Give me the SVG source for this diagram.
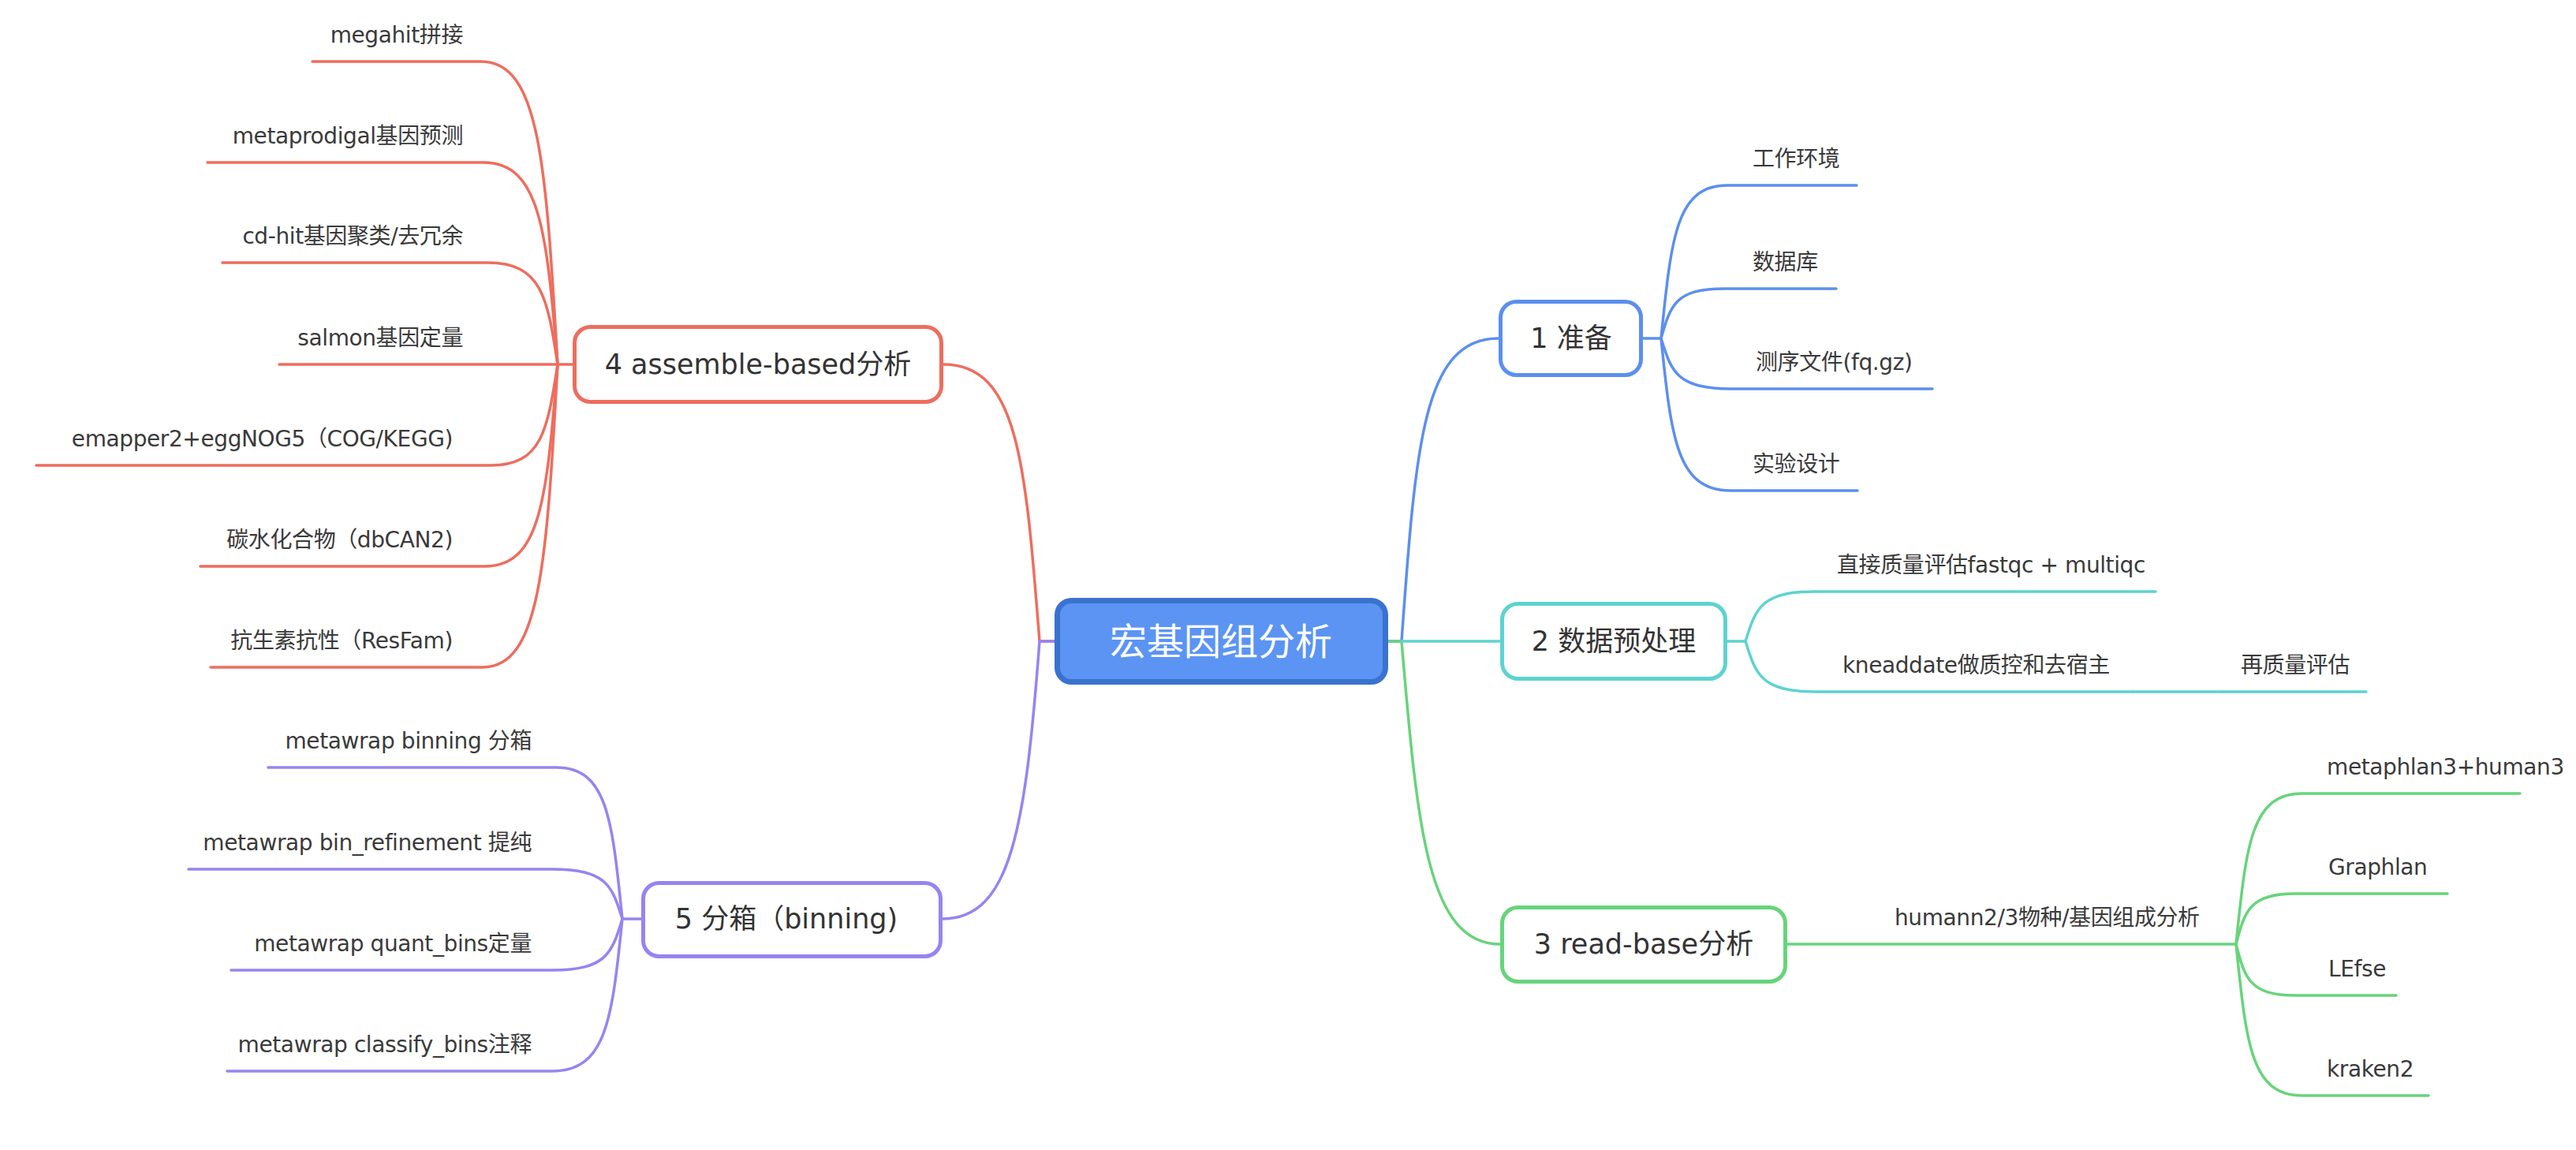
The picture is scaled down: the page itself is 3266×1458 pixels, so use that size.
<svg xmlns="http://www.w3.org/2000/svg" width="3266" height="1458" viewBox="0 0 3266 1458">
  <style>
    .bg { fill: #ffffff; }
    .box { fill: #ffffff; stroke-width: 5; }
    .root { fill: #5b94f3; stroke: #3b72d0; stroke-width: 7; }
    .root-t { font-family: "Noto Sans CJK SC", "DejaVu Sans", sans-serif; font-size: 47px; fill: #ffffff; text-anchor: middle; }
    .main-t { font-family: "DejaVu Sans", "Noto Sans CJK SC", sans-serif; font-size: 35px; fill: #333333; text-anchor: middle; }
    .sub-t { font-family: "DejaVu Sans", "Noto Sans CJK SC", sans-serif; font-size: 28px; fill: #3a3a3a; letter-spacing: -0.4px; }
    .end { text-anchor: end; }
    .ln { fill: none; stroke-width: 3.5; stroke-linecap: round; }
    .c-blue { stroke: #5b8ff0; }
    .c-cyan { stroke: #5dd3d0; }
    .c-green { stroke: #67d47b; }
    .c-red { stroke: #ee6d5e; }
    .c-purple { stroke: #9784f0; }
  </style>
  <rect class="bg" x="0" y="0" width="3266" height="1458"/>

  <!-- branch lines -->
  <g id="connectors">
    <!-- root to main topics -->
    <path class="ln c-blue" d="M1760 813 L1777 813 C1795 560 1805 429 1900 429"/>
    <path class="ln c-green" d="M1760 813 L1777 813 C1797 1050 1810 1197 1902 1197"/>
    <path class="ln c-cyan" d="M1777 813 L1902 813"/>
    <path class="ln c-red" d="M1337 813 L1318 813 C1300 583 1290 462 1196 462"/>
    <path class="ln c-purple" d="M1337 813 L1318 813 C1300 1050 1282 1165 1195 1165"/>

    <!-- 1 准备 -->
    <path class="ln c-blue" d="M2083 429 L2106 429"/>
    <path class="ln c-blue" d="M2106 429 C2119 301 2125 235 2190 235 L2354 235"/>
    <path class="ln c-blue" d="M2106 429 C2118 387 2124 366 2186 366 L2328 366"/>
    <path class="ln c-blue" d="M2106 429 C2119 471 2126 493 2194 493 L2450 493"/>
    <path class="ln c-blue" d="M2106 429 C2119 556 2126 622 2194 622 L2355 622"/>

    <!-- 2 数据预处理 -->
    <path class="ln c-cyan" d="M2190 813 L2213 813"/>
    <path class="ln c-cyan" d="M2213 813 C2226 771 2233 750 2301 750 L2733 750"/>
    <path class="ln c-cyan" d="M2213 813 C2226 855 2233 877 2301 877 L2705 877"/>
    <path class="ln c-cyan" d="M2705 877 L2818 877"/>
    <path class="ln c-cyan" d="M2818 877 L3000 877"/>

    <!-- 3 read-base分析 -->
    <path class="ln c-green" d="M2266 1197 L2835 1197"/>
    <path class="ln c-green" d="M2835 1197 C2848 1071 2854 1006 2919 1006 L3195 1006"/>
    <path class="ln c-green" d="M2835 1197 C2846 1155 2852 1133 2910 1133 L3103 1133"/>
    <path class="ln c-green" d="M2835 1197 C2846 1240 2852 1262 2910 1262 L3038 1262"/>
    <path class="ln c-green" d="M2835 1197 C2848 1324 2854 1389 2919 1389 L3079 1389"/>

    <!-- 4 assemble-based分析 -->
    <path class="ln c-red" d="M726 462 L707 462"/>
    <path class="ln c-red" d="M707 462 C692 209 685 78 610 78 L396 78"/>
    <path class="ln c-red" d="M707 462 C693 293 685 206 613 206 L263 206"/>
    <path class="ln c-red" d="M707 462 C694 377 687 333 618 333 L282 333"/>
    <path class="ln c-red" d="M707 462 L354 462"/>
    <path class="ln c-red" d="M707 462 C694 546 687 590 622 590 L46 590"/>
    <path class="ln c-red" d="M707 462 C693 631 686 718 615 718 L254 718"/>
    <path class="ln c-red" d="M707 462 C693 715 685 846 612 846 L267 846"/>

    <!-- 5 分箱 -->
    <path class="ln c-purple" d="M813 1165 L789 1165"/>
    <path class="ln c-purple" d="M789 1165 C776 1038 770 973 705 973 L340 973"/>
    <path class="ln c-purple" d="M789 1165 C776 1123 769 1102 700 1102 L239 1102"/>
    <path class="ln c-purple" d="M789 1165 C776 1208 769 1230 700 1230 L293 1230"/>
    <path class="ln c-purple" d="M789 1165 C776 1292 769 1358 700 1358 L288 1358"/>
  </g>

  <!-- central topic -->
  <g id="root">
    <rect class="root" x="1340.5" y="761.5" width="416" height="103" rx="18"/>
    <text class="root-t" x="1548" y="830">宏基因组分析</text>
  </g>

  <!-- main topics -->
  <g id="topic-prepare">
    <rect class="box c-blue" x="1902.5" y="382.5" width="178" height="93" rx="20"/>
    <text class="main-t" x="1992" y="441">1 准备</text>
  </g>
  <g id="topic-preprocess">
    <rect class="box c-cyan" x="1904.5" y="765.5" width="283" height="95" rx="20"/>
    <text class="main-t" x="2046" y="825">2 数据预处理</text>
  </g>
  <g id="topic-readbase">
    <rect class="box c-green" x="1904.5" y="1150.5" width="359" height="94" rx="20"/>
    <text class="main-t" x="2084" y="1209">3 read-base分析</text>
  </g>
  <g id="topic-assemble">
    <rect class="box c-red" x="728.5" y="414.5" width="465" height="95" rx="20"/>
    <text class="main-t" x="961" y="474">4 assemble-based分析</text>
  </g>
  <g id="topic-binning">
    <rect class="box c-purple" x="815.5" y="1119.5" width="377" height="93" rx="20"/>
    <text class="main-t" x="997" y="1177">5 分箱（binning)</text>
  </g>

  <!-- 1 准备 subtopics -->
  <g id="sub-env"><text class="sub-t" x="2222" y="211">工作环境</text></g>
  <g id="sub-db"><text class="sub-t" x="2222" y="342">数据库</text></g>
  <g id="sub-fq"><text class="sub-t" x="2226" y="469">测序文件(fq.gz)</text></g>
  <g id="sub-design"><text class="sub-t" x="2222" y="598">实验设计</text></g>

  <!-- 2 数据预处理 subtopics -->
  <g id="sub-fastqc"><text class="sub-t" x="2329" y="726">直接质量评估fastqc + multiqc</text></g>
  <g id="sub-kneaddata"><text class="sub-t" x="2336" y="853">kneaddate做质控和去宿主</text></g>
  <g id="sub-requal"><text class="sub-t" x="2841" y="853">再质量评估</text></g>

  <!-- 3 read-base分析 subtopics -->
  <g id="sub-humann"><text class="sub-t" x="2402" y="1173">humann2/3物种/基因组成分析</text></g>
  <g id="sub-metaphlan"><text class="sub-t" x="2950" y="982">metaphlan3+human3</text></g>
  <g id="sub-graphlan"><text class="sub-t" x="2952" y="1109">Graphlan</text></g>
  <g id="sub-lefse"><text class="sub-t" x="2952" y="1238">LEfse</text></g>
  <g id="sub-kraken"><text class="sub-t" x="2950" y="1365">kraken2</text></g>

  <!-- 4 assemble-based分析 subtopics -->
  <g id="sub-megahit"><text class="sub-t end" x="587" y="54">megahit拼接</text></g>
  <g id="sub-prodigal"><text class="sub-t end" x="587" y="182">metaprodigal基因预测</text></g>
  <g id="sub-cdhit"><text class="sub-t end" x="587" y="309">cd-hit基因聚类/去冗余</text></g>
  <g id="sub-salmon"><text class="sub-t end" x="587" y="438">salmon基因定量</text></g>
  <g id="sub-emapper"><text class="sub-t end" x="574" y="566">emapper2+eggNOG5（COG/KEGG)</text></g>
  <g id="sub-dbcan"><text class="sub-t end" x="574" y="694">碳水化合物（dbCAN2)</text></g>
  <g id="sub-resfam"><text class="sub-t end" x="574" y="822">抗生素抗性（ResFam)</text></g>

  <!-- 5 分箱 subtopics -->
  <g id="sub-binning"><text class="sub-t end" x="674" y="949">metawrap binning 分箱</text></g>
  <g id="sub-refine"><text class="sub-t end" x="674" y="1078">metawrap bin_refinement 提纯</text></g>
  <g id="sub-quant"><text class="sub-t end" x="674" y="1206">metawrap quant_bins定量</text></g>
  <g id="sub-classify"><text class="sub-t end" x="674" y="1334">metawrap classify_bins注释</text></g>
</svg>
